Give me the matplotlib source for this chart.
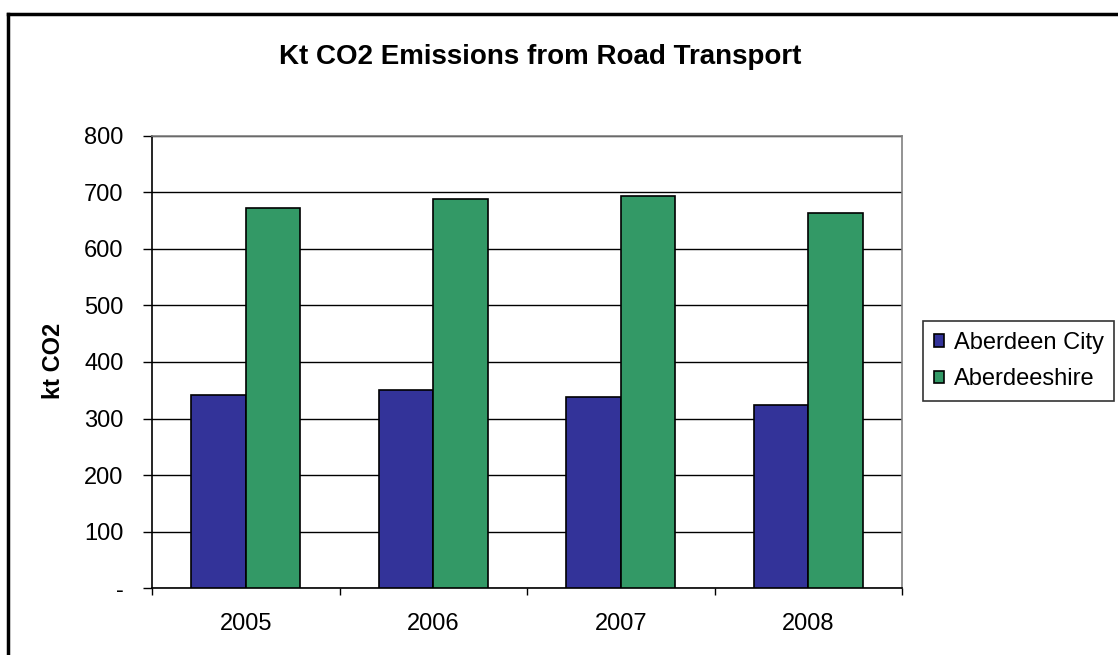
import matplotlib
matplotlib.use("Agg")
import matplotlib.pyplot as plt
import numpy as np

years = ["2005", "2006", "2007", "2008"]
aberdeen_city = [342, 350, 338, 324]
aberdeenshire = [672, 689, 693, 663]
series_names = ["Aberdeen City", "Aberdeeshire"]
y_ticks = [0, 100, 200, 300, 400, 500, 600, 700, 800]
y_ticklabels = ["-", "100", "200", "300", "400", "500", "600", "700", "800"]

plt.rcParams['font.family'] = ['Liberation Sans', 'DejaVu Sans']

W, H = 1118, 655
fig = plt.figure(figsize=(W / 100, H / 100), dpi=100)
ax = fig.add_axes([152 / W, 1 - 588 / H, (902 - 152) / W, (588 - 136) / H])

x = np.arange(len(years))
bw = 0.29
blue = "#333399"
green = "#339966"
ax.bar(x - bw / 2, aberdeen_city, bw, color=blue, edgecolor="black", linewidth=1.2, label=series_names[0], zorder=3)
ax.bar(x + bw / 2, aberdeenshire, bw, color=green, edgecolor="black", linewidth=1.2, label=series_names[1], zorder=3)

ax.set_xlim(-0.5, len(years) - 0.5)
ax.set_ylim(0, 800)
ax.set_yticks(y_ticks)
ax.set_yticklabels(y_ticklabels, fontsize=17)
ax.set_xticks(x)
ax.set_xticklabels(years, fontsize=17)
ax.tick_params(axis='x', length=0, pad=18)
ax.set_xticks(np.arange(-0.5, len(years)), minor=True)
ax.tick_params(axis='x', which='minor', length=5, width=1, color="black", direction='out')
ax.tick_params(axis='y', length=6.5, width=1, color="black", direction='out', pad=14)

ax.grid(axis='y', color="black", linewidth=1, zorder=0)
for s in ["top", "right"]:
    ax.spines[s].set_color("#808080")
    ax.spines[s].set_linewidth(1.2)
for s in ["left", "bottom"]:
    ax.spines[s].set_color("black")
    ax.spines[s].set_linewidth(1.2)

ax.set_ylabel("kt CO2", fontsize=17, fontweight='bold')
ax.yaxis.set_label_coords(65 / W, 1 - 361 / H, transform=fig.transFigure)

fig.text(540 / W, 1 - 57 / H, "Kt CO2 Emissions from Road Transport",
         ha='center', va='center', fontsize=20, fontweight='bold')

leg = ax.legend(loc='upper left', bbox_to_anchor=(923 / W, 1 - 321 / H), bbox_transform=fig.transFigure,
                fontsize=17, frameon=True, fancybox=False, edgecolor="black", handlelength=0.45,
                handleheight=0.45, handletextpad=0.4, borderpad=0.45, labelspacing=0.62, borderaxespad=0)
leg.get_frame().set_linewidth(1.2)

# outer chart border (top and left visible)
fig.add_artist(plt.Line2D([8 / W, 8 / W], [0, 1 - 14 / H], transform=fig.transFigure, color="black", linewidth=2.5))
fig.add_artist(plt.Line2D([8 / W, 1], [1 - 14 / H, 1 - 14 / H], transform=fig.transFigure, color="black", linewidth=2.5))

fig.savefig("out.png", dpi=100)
